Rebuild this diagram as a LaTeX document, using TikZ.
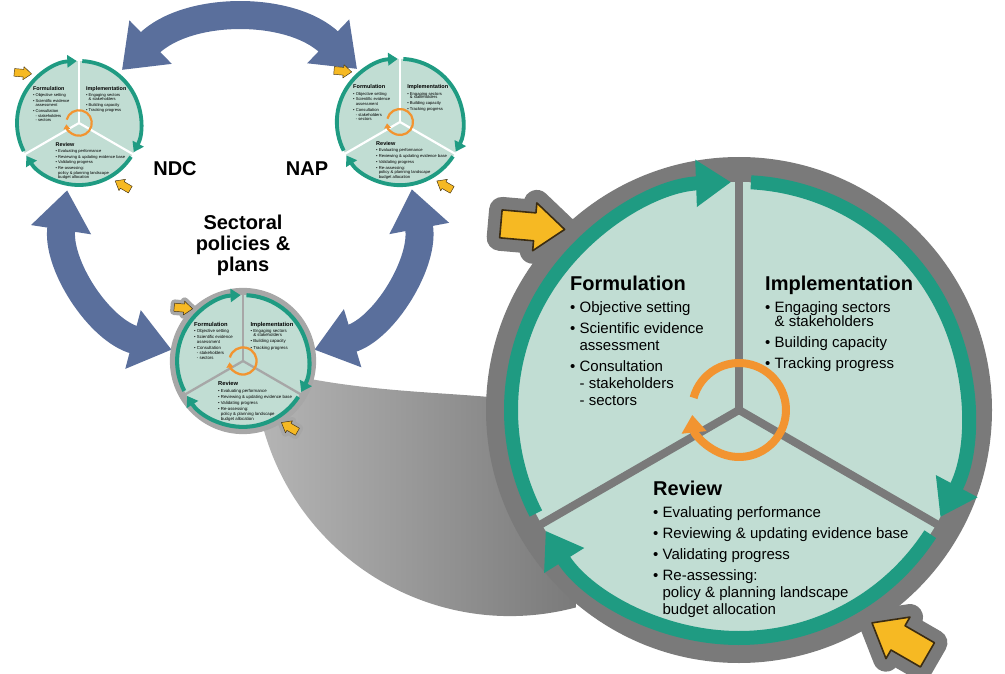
\documentclass[tikz,border=0pt]{standalone}
\usepackage{fontspec}
\setmainfont{Liberation Sans}
\usetikzlibrary{arrows.meta, positioning}

\definecolor{mint}{HTML}{C1DDD3}
\definecolor{ringgreen}{HTML}{1F9B82}
\definecolor{halogray}{HTML}{7A7A7A}
\definecolor{palegray}{HTML}{A7A7A7}
\definecolor{funnelgray}{HTML}{B4B4B4}
\definecolor{looporange}{HTML}{F29430}
\definecolor{nudgeyellow}{HTML}{F6B923}
\definecolor{nudgeedge}{HTML}{3B2C12}
\definecolor{linkblue}{HTML}{5A6F9C}

\newcommand{\bul}{\textbullet\ }
\newcommand{\ind}{\hphantom{\textbullet\ }}
\newcommand{\headline}[1]{{\fontsize{20}{20}\selectfont\bfseries #1}}
\newcommand{\nudgeshape}{(0,0) -- (-30,24) -- (-30,14) -- (-64,14) -- (-64,-14) -- (-30,-14) -- (-30,-24) -- cycle}

\tikzset{
  rim/.style={circle, inner sep=0pt, minimum size=#1},
  tag/.style={font=\fontsize{20}{21}\selectfont\bfseries, align=center},
  block/.style={font=\fontsize{15}{17}\selectfont, align=left, inner sep=0pt, anchor=north west},
  link/.style={draw=linkblue, line width=28pt,
    {Triangle[length=40pt, width=58pt]}-{Triangle[length=40pt, width=58pt]}},
  pics/halo/.style n args={2}{code={
    \begin{scope}[scale=#1]
      \fill[#2] (0,0) circle (253);
      \filldraw[#2, line width=#1*26pt, line join=round, shift={(134:251)}, rotate=-5] \nudgeshape;
      \filldraw[#2, line width=#1*26pt, line join=round, shift={(-58:251)}, rotate=150] \nudgeshape;
    \end{scope}
  }},
  pics/wheel/.style n args={2}{code={
    \begin{scope}[scale=#1, transform shape]
      \fill[mint] (0,0) circle (228);
      \foreach \a in {90,-30,210}
        \draw[#2, line width=#1*8pt] (0,0) -- (\a:250);
      % three phases, clockwise
      \foreach \a in {90,-30,210}
        \draw[ringgreen, line width=#1*14pt, -{Triangle[length=0pt 2.5 0, width=0pt 3.2 0]}]
          (\a+117:228) arc (\a+117:\a+2:228);
      \draw[looporange, line width=#1*8pt, -{Triangle[length=0pt 2.2 0, width=0pt 3 0]}]
        (165:47) arc (165:-174:47);
      \filldraw[fill=nudgeyellow, draw=nudgeedge, line width=#1*1.6pt, line join=round,
        shift={(134:251)}, rotate=-5] \nudgeshape;
      \filldraw[fill=nudgeyellow, draw=nudgeedge, line width=#1*1.6pt, line join=round,
        shift={(-58:251)}, rotate=150] \nudgeshape;
      \node[block] (-form) at (-169,134) {\headline{Formulation}\\[5pt]
        \bul Objective setting\\[4pt]
        \bul Scientific evidence\\
        \ind assessment\\[4pt]
        \bul Consultation\\
        \ind - stakeholders\\
        \ind - sectors};
      \node[block] (-impl) at (26,134) {\headline{Implementation}\\[5pt]
        \bul Engaging sectors\\[-3pt]
        \ind\& stakeholders\\[4pt]
        \bul Building capacity\\[4pt]
        \bul Tracking progress};
      \node[block] (-rev) at (-86,-71) {\headline{Review}\\[5pt]
        \bul Evaluating performance\\[4pt]
        \bul Reviewing \& updating evidence base\\[4pt]
        \bul Validating progress\\[4pt]
        \bul Re-assessing:\\
        \ind policy \& planning landscape\\
        \ind budget allocation};
    \end{scope}
  }},
}

\begin{document}
\begin{tikzpicture}[x=1pt, y=1pt]
  \useasboundingbox (0,0) rectangle (1005,-674);

  \node[rim=136pt] (ndc) at (79,-123) {};
  \node[rim=136pt] (nap) at (400,-122) {};
  \node[rim=144pt] (sec) at (243,-361) {};
  \node[rim=506pt] (big) at (739,-410) {};

  % links between the three cycles
  \draw[link] (ndc.51) to[bend left=44] (nap.129);
  \draw[link] (ndc.-100) to[bend right=42] (sec.171);
  \draw[link] (nap.-80) to[bend left=42] (sec.9);

  % zoom funnel
  \shade[left color=funnelgray, right color=halogray]
    (290,-375) .. controls (370,-392) and (440,-392) .. (500,-398)
    -- (570,-470) -- (576.3,-607.3) arc (285:195:256) -- cycle;

  \pic at (big) {halo={1}{halogray}};
  \pic at (sec) {halo={0.289}{palegray}};

  \pic (bigw) at (big) {wheel={1}{halogray}};
  \pic (secw) at (sec) {wheel={0.289}{palegray}};
  \pic (ndcw) at (ndc) {wheel={0.272}{white}};
  \pic (napw) at (nap) {wheel={0.277}{white}};

  \node[tag] (ndctag) at (175,-169) {NDC};
  \node[tag] (naptag) at (307,-169) {NAP};
  \node[tag] (sectag) at (243,-245) {Sectoral\\policies \&\\plans};
\end{tikzpicture}
\end{document}
